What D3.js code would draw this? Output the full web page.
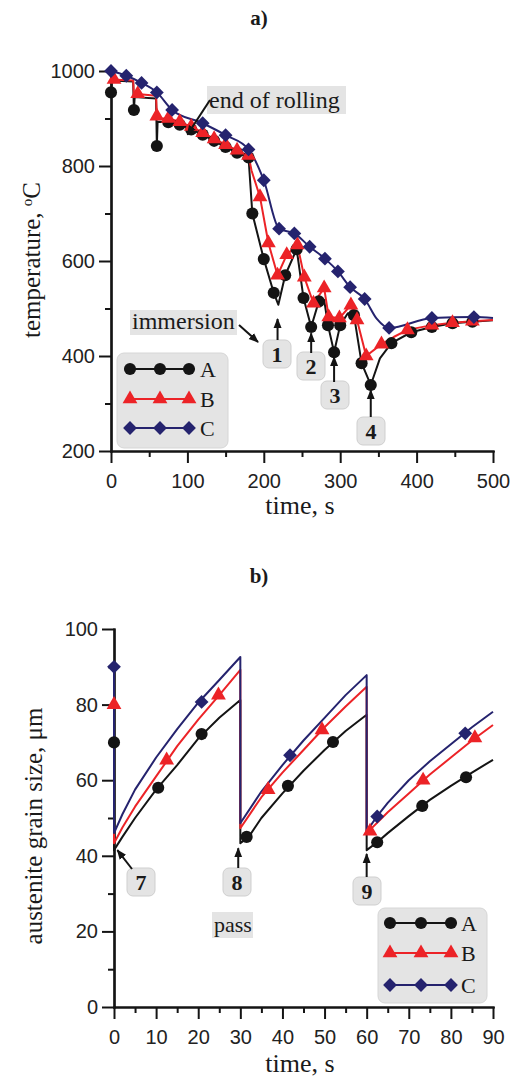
<!DOCTYPE html>
<html>
<head>
<meta charset="utf-8">
<script src="https://cdn.jsdelivr.net/npm/d3@7"></script>
<style>
body { margin: 0; background: #fff; }
svg { display: block; }
.tick text { font-family: "Liberation Sans", Arial, sans-serif; font-size: 20px; fill: #222; }
.serif { font-family: "Liberation Serif", "Times New Roman", serif; fill: #1a1a1a; }
</style>
</head>
<body>
<svg id="chart" width="512" height="1082"></svg>
<script>
// ---- chart a) temperature vs time: [time s, temperature C]
let tempA = [[0,955],[1,980],[29,978],[30,918],[31,945],[59,942],[60,842],[61,893],[75,892],[90,887],[105,877],[120,866],[135,853],[150,840],[165,828],[180,818],[185,700],[200,604],[213,533],[219,508],[228,570],[243,625],[252,522],[262,461],[272,515],[279,518],[284,465],[292,408],[300,465],[310,490],[318,486],[328,385],[340,339],[352,395],[367,427],[393,450],[420,461],[447,469],[473,472],[500,475]];
let tempAPts = [[0,955],[30,918],[60,842],[75,892],[90,887],[105,877],[120,866],[135,853],[150,840],[165,828],[180,818],[185,700],[200,604],[213,533],[228,570],[243,625],[252,522],[262,461],[272,515],[284,465],[292,408],[300,465],[318,486],[328,385],[340,339],[367,427],[393,450],[420,461],[447,469],[473,472]];
let tempB = [[0,990],[1,982],[29,980],[30,945],[31,952],[59,948],[60,905],[62,900],[75,900],[90,893],[105,883],[120,870],[135,857],[150,845],[165,833],[180,822],[184,790],[195,735],[206,638],[218,570],[230,613],[244,634],[253,566],[265,511],[279,543],[285,482],[299,480],[314,507],[322,476],[334,400],[354,425],[370,440],[388,455],[420,465],[447,470],[473,473],[500,476]];
let tempBPts = [[4,982],[35,952],[60,905],[75,900],[90,893],[105,883],[120,870],[135,857],[150,845],[165,833],[180,822],[195,735],[206,638],[218,570],[230,613],[244,634],[253,566],[265,511],[279,543],[285,482],[299,480],[314,507],[322,476],[334,400],[354,425],[388,455],[420,465],[447,470],[473,473]];
let tempC = [[0,1000],[20,990],[40,975],[60,955],[80,918],[120,890],[150,865],[180,835],[200,770],[220,668],[240,658],[260,630],[280,605],[297,578],[313,545],[332,520],[348,478],[364,459],[420,480],[475,482],[500,480]];
let tempCPts = [[0,1000],[20,990],[40,975],[60,955],[80,918],[120,890],[150,865],[180,835],[200,770],[220,668],[240,658],[260,630],[280,605],[297,578],[313,545],[332,520],[364,459],[420,480],[475,482]];

// ---- chart b) austenite grain size vs time: [time s, size um]
let grainA = [[0,70],[0,41.5],[2,45],[5,50],[10,57.5],[15,64],[20,71],[25,76.5],[30,81.2],[30,43.3],[32,45],[35,50],[40,56.5],[45,62.5],[50,68],[55,73],[60,77.3],[60,41.5],[62.5,43.6],[65,46],[70,50.5],[75,54.8],[80,58.5],[85,62],[90,65.4]];
let grainAPts = [[0,70],[10.5,58],[20.8,72.2],[31.5,45],[41.3,58.5],[52,70.1],[62.5,43.6],[73.2,53.2],[83.6,60.8]];
let grainB = [[0,80],[0,43.3],[2,47.5],[5,53],[10,61],[15,69],[20,76],[25,82.5],[30,89.2],[30,47.3],[35,55.5],[40,62],[45,68],[50,74],[55,79.5],[60,84.7],[60,46],[65,51.5],[70,56.5],[75,61.5],[80,66],[85,70.5],[90,74.6]];
let grainBPts = [[0,80],[12.5,65.3],[24.8,82.5],[36.6,57.5],[49.4,73.3],[60.8,46.5],[73.4,60],[85.7,71.2]];
let grainC = [[0,90],[0,46],[2,51],[5,57.5],[10,66],[15,73.5],[20,80.5],[25,86.5],[30,92.6],[30,48.6],[35,57],[40,64],[45,70.5],[50,76.5],[55,82.5],[60,87.8],[60,46.5],[62.5,50.5],[65,54],[70,60],[75,65],[80,69.5],[85,74],[90,78.1]];
let grainCPts = [[0,90],[20.8,80.7],[41.8,66.6],[62.5,50.4],[83.4,72.4]];

let seriesNames = ["A", "B", "C"];
let topXMajor = [0,100,200,300,400,500], topXMinor = [50,150,250,350,450];
let topYMajor = [200,400,600,800,1000], topYMinor = [300,500,700,900];
let botXMajor = [0,10,20,30,40,50,60,70,80,90], botXMinor = [5,15,25,35,45,55,65,75,85];
let botYMajor = [0,20,40,60,80,100], botYMinor = [10,30,50,70,90];

const ink = "#141414", red = "#ec2327", navy = "#25236e", boxFill = "#e4e4e4";
const colors = [ink, red, navy];
const shapes = [d3.symbolCircle, d3.symbolTriangle, d3.symbolSquare];
const sizes = [115, 95, 95];

const svg = d3.select("#chart");
svg.append("defs").append("marker")
    .attr("id", "head").attr("viewBox", "0 0 10 10")
    .attr("refX", 9).attr("refY", 5)
    .attr("markerWidth", 10).attr("markerHeight", 10)
    .attr("markerUnits", "userSpaceOnUse")
    .attr("orient", "auto")
  .append("path").attr("d", "M0,1 L10,5 L0,9 z").attr("fill", ink);

let xTop = d3.scaleLinear().domain([0, 500]).range([111, 493]);
let yTop = d3.scaleLinear().domain([200, 1000]).range([451, 71]);
let xBot = d3.scaleLinear().domain([0, 90]).range([114, 493]);
let yBot = d3.scaleLinear().domain([0, 100]).range([1007, 629]);

function styleAxis(g) {
    g.select(".domain").attr("stroke", ink).attr("stroke-width", 2.2).attr("stroke-linecap", "square");
    g.selectAll(".tick line").attr("stroke", ink).attr("stroke-width", 2);
}

function drawAxes(x, y, xMajor, xMinor, yMajor, yMinor) {
    let bottom = y.range()[0], left = x.range()[0];
    svg.append("g").attr("transform", `translate(0,${bottom})`)
        .call(d3.axisBottom(x).tickValues(xMinor).tickSize(6).tickSizeOuter(0).tickFormat(""))
        .call(styleAxis);
    svg.append("g").attr("transform", `translate(0,${bottom})`)
        .call(d3.axisBottom(x).tickValues(xMajor).tickSize(12).tickSizeOuter(0).tickPadding(11).tickFormat(d3.format("d")))
        .call(styleAxis);
    svg.append("g").attr("transform", `translate(${left},0)`)
        .call(d3.axisLeft(y).tickValues(yMinor).tickSize(6).tickSizeOuter(0).tickFormat(""))
        .call(styleAxis);
    svg.append("g").attr("transform", `translate(${left},0)`)
        .call(d3.axisLeft(y).tickValues(yMajor).tickSize(12).tickSizeOuter(0).tickPadding(4).tickFormat(d3.format("d")))
        .call(styleAxis);
}

function drawLine(x, y, data, color, curve) {
    svg.append("path")
        .datum(data)
        .attr("fill", "none")
        .attr("stroke", color)
        .attr("stroke-width", 2)
        .attr("stroke-linejoin", "round")
        .attr("d", d3.line().curve(curve || d3.curveLinear)
            .x(d => x(d[0]))
            .y(d => y(d[1])));
}

function symbolPath(i) {
    return d3.symbol().type(shapes[i]).size(sizes[i])();
}

function drawMarks(x, y, data, i) {
    svg.append("g").selectAll("path")
        .data(data)
        .enter().append("path")
            .attr("d", symbolPath(i))
            .attr("fill", colors[i])
            .attr("transform", d => `translate(${x(d[0])},${y(d[1])})` + (i == 2 ? " rotate(45)" : ""));
}

function legend(x0, y0, w, h, rowY, markX, textX) {
    svg.append("rect").attr("x", x0).attr("y", y0).attr("width", w).attr("height", h)
        .attr("rx", 7).attr("fill", boxFill).attr("stroke", "#d6d6d6");
    seriesNames.forEach(function(name, i) {
        svg.append("line")
            .attr("x1", markX[0]).attr("x2", markX[2])
            .attr("y1", rowY[i]).attr("y2", rowY[i])
            .attr("stroke", colors[i]).attr("stroke-width", 2);
        markX.forEach(function(mx) {
            svg.append("path").attr("d", symbolPath(i)).attr("fill", colors[i])
                .attr("transform", `translate(${mx},${rowY[i]})` + (i == 2 ? " rotate(45)" : ""));
        });
        svg.append("text").attr("class", "serif")
            .attr("x", textX).attr("y", rowY[i] + 8)
            .style("font-size", "22px")
            .text(name);
    });
}

function arrow(x1, y1, x2, y2) {
    svg.append("line")
        .attr("x1", x1).attr("y1", y1).attr("x2", x2).attr("y2", y2)
        .attr("stroke", ink).attr("stroke-width", 2)
        .attr("marker-end", "url(#head)");
}

function numBox(cx, cy, label) {
    svg.append("rect").attr("x", cx - 14).attr("y", cy - 14).attr("width", 28).attr("height", 28)
        .attr("rx", 6).attr("fill", boxFill).attr("stroke", "#cfcfcf");
    svg.append("text").attr("class", "serif")
        .attr("x", cx).attr("y", cy + 8)
        .attr("text-anchor", "middle")
        .style("font-size", "22px").style("font-weight", "bold")
        .text(label);
}

function tagText(x, y, w, h, label, size) {
    svg.append("rect").attr("x", x).attr("y", y).attr("width", w).attr("height", h).attr("fill", boxFill);
    svg.append("text").attr("class", "serif")
        .attr("x", x + 2).attr("y", y + h - 6)
        .style("font-size", size)
        .text(label);
}

// ---------- a)
svg.append("text").attr("class", "serif")
    .attr("x", 259).attr("y", 25).attr("text-anchor", "middle")
    .style("font-size", "21px").style("font-weight", "bold").text("a)");

drawAxes(xTop, yTop, topXMajor, topXMinor, topYMajor, topYMinor);

drawLine(xTop, yTop, tempA, ink);
drawLine(xTop, yTop, tempB, red);
drawLine(xTop, yTop, tempC, navy, d3.curveMonotoneX);
drawMarks(xTop, yTop, tempAPts, 0);
drawMarks(xTop, yTop, tempBPts, 1);
drawMarks(xTop, yTop, tempCPts, 2);

legend(117, 353, 111, 95, [369, 399, 428], [130, 160, 189], 200);

tagText(207, 86, 139, 28, "end of rolling", "24px");
arrow(210, 100, xTop(100), yTop(866));
tagText(130, 310, 107, 25, "immersion", "24px");
arrow(239, 325, 258, 342);

numBox(277, 354, "1");
arrow(xTop(218), 340, xTop(218), yTop(478));
numBox(311, 366, "2");
arrow(xTop(262), 353, xTop(262), yTop(448));
numBox(335, 395, "3");
arrow(xTop(292), 382, xTop(292), yTop(398));
numBox(371, 431, "4");
arrow(xTop(340), 417, xTop(340), yTop(328));

let yl = svg.append("text").attr("class", "serif")
    .attr("transform", "translate(40,260) rotate(-90)")
    .attr("text-anchor", "middle")
    .style("font-size", "25px");
yl.append("tspan").text("temperature, ");
yl.append("tspan").attr("baseline-shift", "super").style("font-size", "15px").text("o");
yl.append("tspan").text("C");

svg.append("text").attr("class", "serif")
    .attr("x", 300).attr("y", 514).attr("text-anchor", "middle")
    .style("font-size", "26px").text("time, s");

// ---------- b)
svg.append("text").attr("class", "serif")
    .attr("x", 259).attr("y", 583).attr("text-anchor", "middle")
    .style("font-size", "21px").style("font-weight", "bold").text("b)");

drawAxes(xBot, yBot, botXMajor, botXMinor, botYMajor, botYMinor);

drawLine(xBot, yBot, grainA, ink);
drawLine(xBot, yBot, grainB, red);
drawLine(xBot, yBot, grainC, navy);
drawMarks(xBot, yBot, grainAPts, 0);
drawMarks(xBot, yBot, grainBPts, 1);
drawMarks(xBot, yBot, grainCPts, 2);

legend(378, 908, 109, 95, [923, 953, 985], [390, 421, 451], 461);

numBox(141, 882, "7");
arrow(132, 869, xBot(0.8), yBot(41.5));
numBox(237, 882, "8");
arrow(xBot(29.5), 868, xBot(29.5), yBot(42));
numBox(367, 891, "9");
arrow(xBot(60), 877, xBot(60), yBot(40.5));
tagText(212, 912, 41, 26, "pass", "22px");

svg.append("text").attr("class", "serif")
    .attr("transform", "translate(42,826) rotate(-90)")
    .attr("text-anchor", "middle")
    .style("font-size", "25px")
    .text("austenite grain size, μm");

svg.append("text").attr("class", "serif")
    .attr("x", 300).attr("y", 1072).attr("text-anchor", "middle")
    .style("font-size", "26px").text("time, s");
</script>
</body>
</html>
